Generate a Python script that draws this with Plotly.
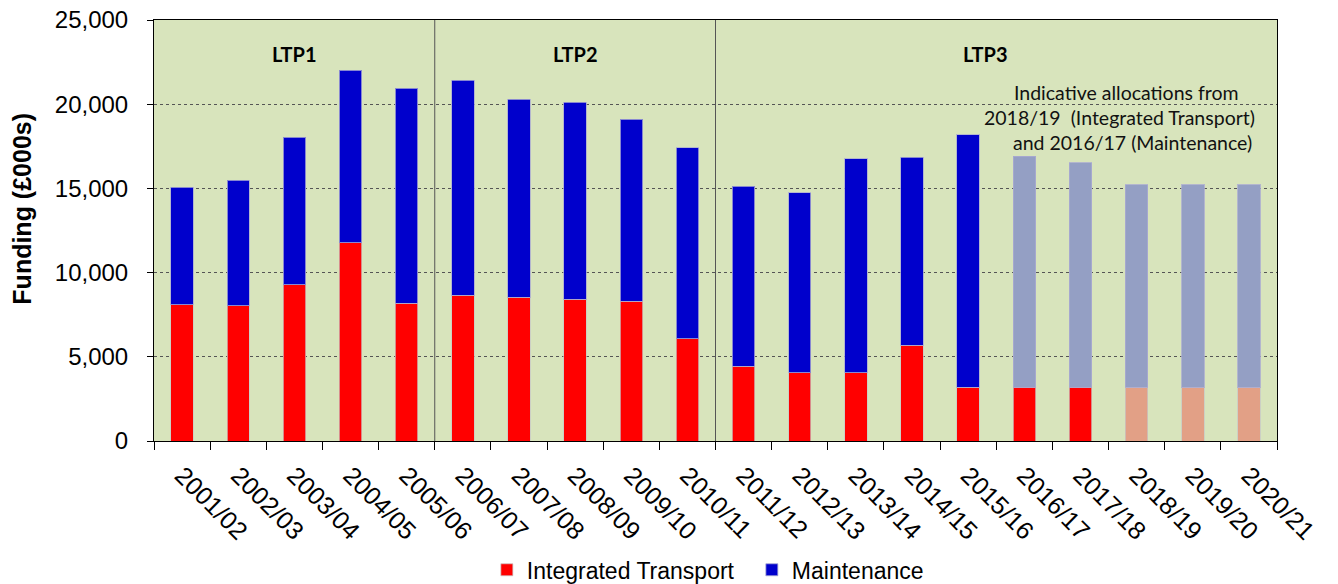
import plotly.graph_objects as go

# ---- data (£000s) ----
years = ["2001/02", "2002/03", "2003/04", "2004/05", "2005/06",
         "2006/07", "2007/08", "2008/09", "2009/10", "2010/11",
         "2011/12", "2012/13", "2013/14", "2014/15", "2015/16",
         "2016/17", "2017/18", "2018/19", "2019/20", "2020/21"]
integrated_transport = [8080, 8030, 9280, 11780, 8180,
                        8650, 8550, 8430, 8310, 6060,
                        4450, 4040, 4040, 5680, 3190,
                        3190, 3190, 3190, 3190, 3190]
totals = [15070, 15480, 18050, 22010, 20940,
          21420, 20290, 20110, 19100, 17420,
          15120, 14750, 16760, 16850, 18190,
          16920, 16510, 15220, 15220, 15220]
maintenance = [t - i for t, i in zip(totals, integrated_transport)]

# first year of indicative (projected) allocations for each series
it_indicative_from = "2018/19"
maint_indicative_from = "2016/17"

periods = ["LTP1", "LTP2", "LTP3"]
period_label_x = [2.0, 7.0, 14.3]
period_breaks = [4.5, 9.5]

y_ticks = [0, 5000, 10000, 15000, 20000, 25000]

# ---- styling ----
RED, RED_FADED = "#FF0000", "#E2A086"
BLUE, BLUE_FADED = "#0000CC", "#949FC4"

it_start = years.index(it_indicative_from)
mt_start = years.index(maint_indicative_from)
it_colors = [RED if k < it_start else RED_FADED for k in range(len(years))]
mt_colors = [BLUE if k < mt_start else BLUE_FADED for k in range(len(years))]

fig = go.Figure()
fig.add_trace(go.Bar(
    x=years, y=integrated_transport, name="Integrated Transport",
    marker=dict(color=it_colors, line=dict(color="rgba(200,200,200,0.7)", width=1)),
))
fig.add_trace(go.Bar(
    x=years, y=maintenance, name="Maintenance",
    marker=dict(color=mt_colors, line=dict(color="rgba(170,170,210,0.8)", width=1)),
))

for xb in period_breaks:
    fig.add_shape(type="line", xref="x", yref="y", x0=xb, x1=xb, y0=0, y1=25000,
                  line=dict(color="#555555", width=1))

for lbl, xp in zip(periods, period_label_x):
    fig.add_annotation(x=xp, y=23000, xref="x", yref="y", text="<b>" + lbl + "</b>",
                       showarrow=False, font=dict(family="Lato, Carlito, sans-serif",
                                                  size=20, color="#000000"))

note_lines = ["Indicative allocations from",
              "2018/19\u00a0 (Integrated Transport)",
              "and 2016/17 (Maintenance)"]
note_y = [20720, 19240, 17700]
note_x = [16.82, 16.70, 16.92]
for txt, ny, nx in zip(note_lines, note_y, note_x):
    fig.add_annotation(x=nx, y=ny, xref="x", yref="y", text=txt, showarrow=False,
                       font=dict(family="Lato, Carlito, sans-serif", size=19.5, color="#111111"))

fig.add_annotation(x=-0.1175, y=0.552, xref="paper", yref="paper",
                   xanchor="center", yanchor="middle",
                   text="<b>Funding (£000s)</b>", textangle=-90, showarrow=False,
                   font=dict(family="Arial, Liberation Sans, sans-serif", size=25, color="#000000"))

# the page body adds an 8px margin, so the figure is sized to fit inside the window
fig.update_layout(
    width=1330, height=576,
    barmode="stack", bargap=0.6,
    plot_bgcolor="#D8E4BC", paper_bgcolor="#FFFFFF",
    margin=dict(l=146, r=61, t=12, b=143, pad=0, autoexpand=False),
    font=dict(family="Arial, Liberation Sans, sans-serif", color="#000000"),
    legend=dict(orientation="h", x=0.2964, xanchor="left", y=-0.306, yanchor="middle",
                font=dict(size=23), itemwidth=30, traceorder="normal",
                entrywidth=220, entrywidthmode="pixels",
                bgcolor="rgba(0,0,0,0)"),
    showlegend=True,
)
fig.update_xaxes(
    type="category", tickangle=45, tickfont=dict(size=25), automargin=False,
    showline=True, linecolor="#000000", linewidth=1, mirror=True,
    ticks="outside", tickson="boundaries", ticklen=8, tickcolor="#000000",
    showgrid=False, range=[-0.5, 19.5], ticklabelstandoff=9,
    ticklabeloverflow="allow",
)
fig.update_yaxes(
    range=[0, 25000], tickvals=y_ticks, tickformat=",", tickfont=dict(size=24),
    automargin=False, ticklabeloverflow="allow",
    showline=True, linecolor="#000000", linewidth=1, mirror=True,
    ticks="outside", ticklen=6, tickcolor="#000000",
    showgrid=True, gridcolor="#555555", griddash="dot", gridwidth=1,
    zeroline=False, ticklabelstandoff=14,
)

fig.write_html("out.html")
